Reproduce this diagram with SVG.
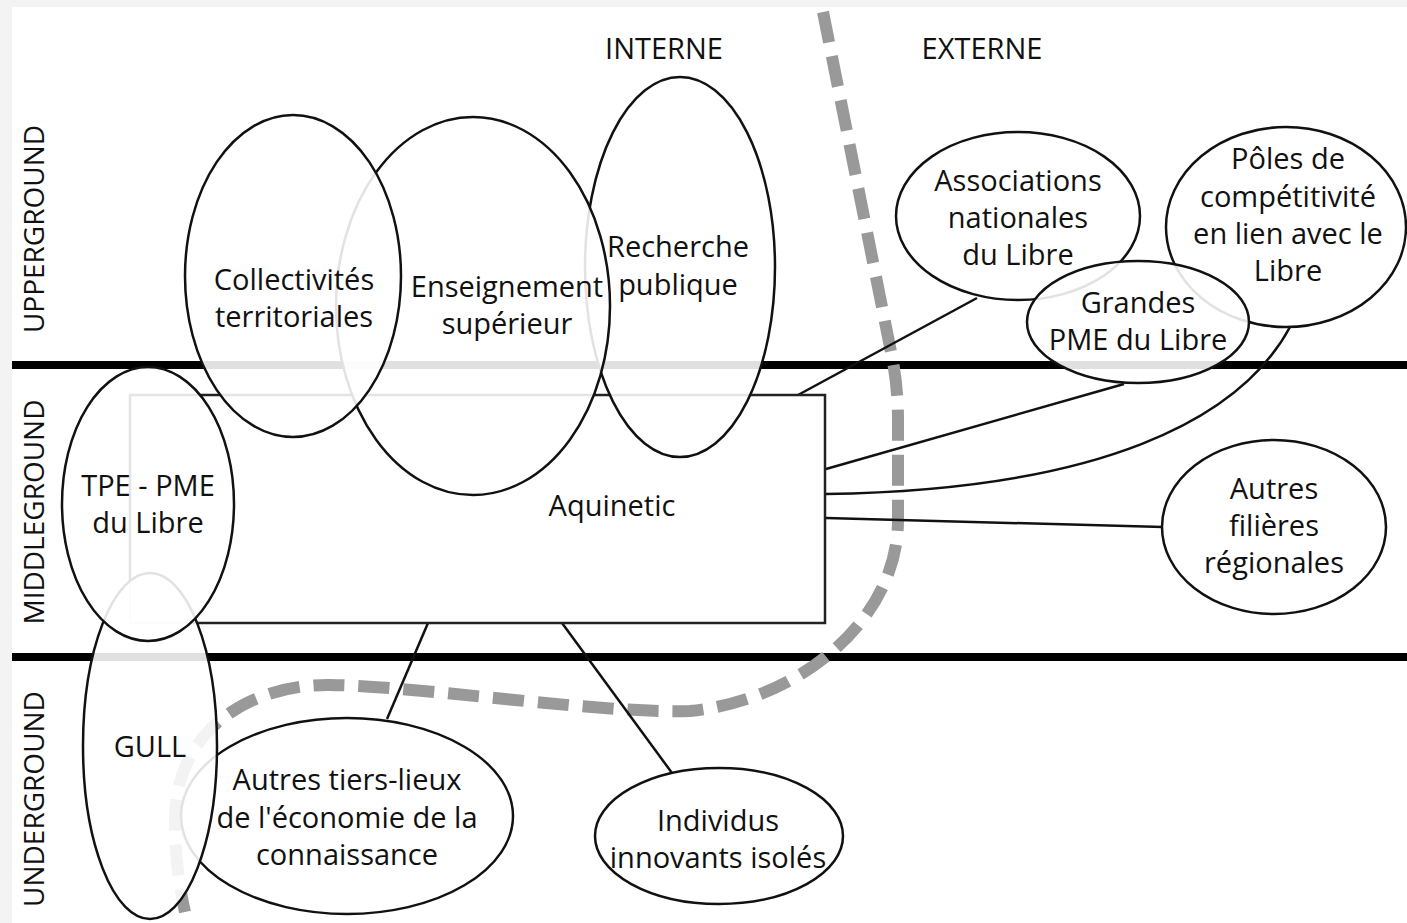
<svg xmlns="http://www.w3.org/2000/svg" width="1407" height="923" viewBox="0 0 1407 923">
<style>
text{font-family:"Open Sans","Liberation Sans",sans-serif;font-size:29px;fill:#111;text-anchor:middle}
.side{font-size:28px}
.band{stroke:#000;stroke-width:8;fill:none}
.dash{stroke:#999;stroke-width:12;fill:none;stroke-dasharray:31 14}
.con{stroke:#111;stroke-width:2.5;fill:none}
.node{fill:#fff;fill-opacity:0.88;stroke:#111;stroke-width:2.5}
.rect{fill:#fff;stroke:#222;stroke-width:2.5}
</style>
<rect x="0" y="0" width="1407" height="923" fill="#f3f3f3"/>
<rect x="12" y="7" width="1395" height="916" fill="#fff"/>
<g id="bands">
<line class="band" x1="12" y1="365" x2="1407" y2="365"/>
<line class="band" x1="12" y1="657" x2="1407" y2="657"/>
<text class="side" transform="translate(44,229) rotate(-90)">UPPERGROUND</text>
<text class="side" transform="translate(44,512) rotate(-90)">MIDDLEGROUND</text>
<text class="side" transform="translate(44,799) rotate(-90)">UNDERGROUND</text>
</g>
<path id="boundary" class="dash" d="M823 12 L893 362 Q898 390 898 420 L898 520 C898 620 800 700 690 711 C600 714 420 686 330 685 C250 684 175 730 175 820 C175 860 180 890 185 912"/>
<g id="connectors">
<line class="con" x1="977" y1="298" x2="798" y2="395"/>
<line class="con" x1="1124" y1="384" x2="826" y2="469"/>
<path class="con" d="M1290 327 C1240 420 1100 490 826 494"/>
<line class="con" x1="1163" y1="527" x2="826" y2="518"/>
<line class="con" x1="428" y1="623" x2="387" y2="719"/>
<line class="con" x1="562" y1="623" x2="672" y2="773"/>
</g>
<g id="aquinetic">
<rect class="rect" x="130" y="395" width="695" height="228"/>
<text x="612" y="516">Aquinetic</text>
</g>
<g id="recherche">
<ellipse class="node" cx="680" cy="267" rx="95" ry="190"/>
<text x="678" y="257">Recherche</text>
<text x="678" y="295">publique</text>
</g>
<g id="enseignement">
<ellipse class="node" cx="473" cy="306" rx="137" ry="189"/>
<text x="507" y="297">Enseignement</text>
<text x="507" y="334">supérieur</text>
</g>
<g id="collectivites">
<ellipse class="node" cx="293" cy="276" rx="108" ry="161"/>
<text x="294" y="290">Collectivités</text>
<text x="294" y="327">territoriales</text>
</g>
<g id="tierslieux">
<ellipse class="node" cx="347" cy="816" rx="166" ry="98"/>
<text x="347" y="790">Autres tiers-lieux</text>
<text x="347" y="828">de l'économie de la</text>
<text x="347" y="865">connaissance</text>
</g>
<g id="gull">
<ellipse class="node" cx="150" cy="746" rx="67" ry="173"/>
<text x="150" y="757">GULL</text>
</g>
<g id="tpe">
<ellipse class="node" cx="148" cy="504" rx="86" ry="137"/>
<text x="148" y="496">TPE - PME</text>
<text x="148" y="533">du Libre</text>
</g>
<g id="individus">
<ellipse class="node" cx="719" cy="836" rx="124" ry="68"/>
<text x="718" y="831">Individus</text>
<text x="718" y="868">innovants isolés</text>
</g>
<g id="associations">
<ellipse class="node" cx="1018" cy="216" rx="122" ry="84"/>
<text x="1018" y="191">Associations</text>
<text x="1018" y="228">nationales</text>
<text x="1018" y="265">du Libre</text>
</g>
<g id="poles">
<ellipse class="node" cx="1286" cy="227" rx="120" ry="100"/>
<text x="1288" y="169">Pôles de</text>
<text x="1288" y="207">compétitivité</text>
<text x="1288" y="244">en lien avec le</text>
<text x="1288" y="281">Libre</text>
</g>
<g id="grandes">
<ellipse class="node" cx="1138" cy="322" rx="111" ry="61"/>
<text x="1138" y="313">Grandes</text>
<text x="1138" y="350">PME du Libre</text>
</g>
<g id="filieres">
<ellipse class="node" cx="1274" cy="527" rx="112" ry="87"/>
<text x="1274" y="499">Autres</text>
<text x="1274" y="536">filières</text>
<text x="1274" y="573">régionales</text>
</g>
<g id="zones">
<text x="664" y="59">INTERNE</text>
<text x="982" y="59">EXTERNE</text>
</g>
</svg>
